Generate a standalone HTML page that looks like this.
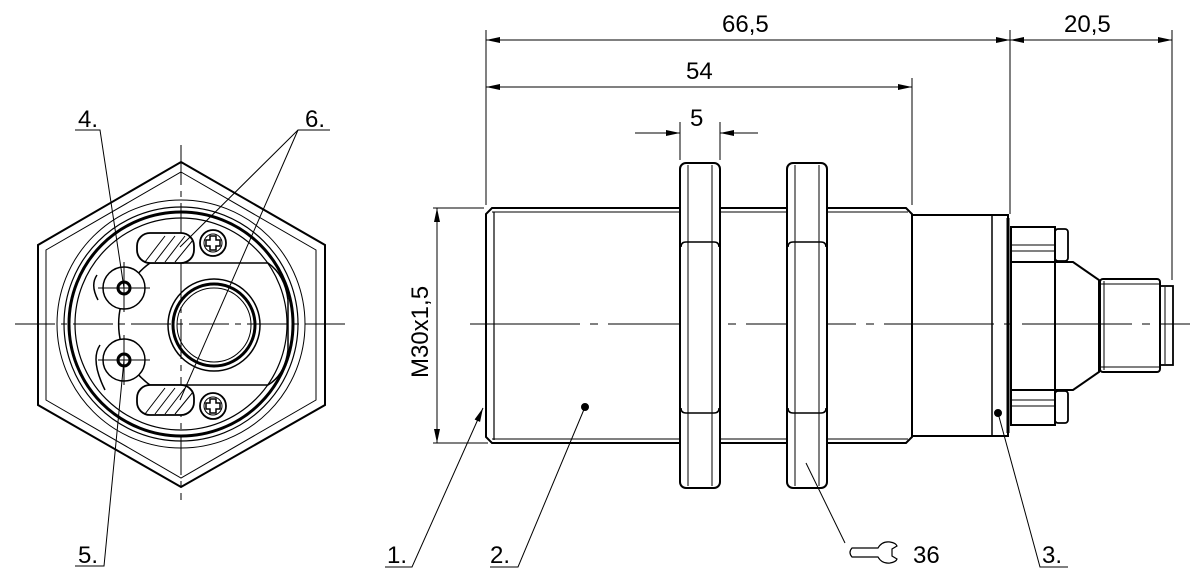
<!DOCTYPE html>
<html><head><style>body{margin:0;background:#fff}svg{display:block}text{font-family:"Liberation Sans",sans-serif;fill:#000}</style></head>
<body>
<svg width="1200" height="585" viewBox="0 0 1200 585" xmlns="http://www.w3.org/2000/svg">
<defs>
<marker id="a" markerWidth="14" markerHeight="8" refX="14" refY="4" orient="auto" markerUnits="userSpaceOnUse"><path d="M0,1 L14,4 L0,7 Z" fill="#000"/></marker>
</defs>
<g fill="none" stroke="#000">
<!-- LEFT VIEW -->
<g stroke-width="1">
<line x1="15" y1="324" x2="348" y2="324" stroke-dasharray="40,6,6,6"/>
<line x1="181" y1="145" x2="181" y2="500" stroke-dasharray="40,6,6,6"/>
</g>
<polygon points="181,162 325,245 325,405 181,487 38,405 38,245" stroke-width="2"/>
<polygon points="181,172 316,250 316,400 181,478 46,400 46,250" stroke-width="1"/>
<circle cx="181" cy="324" r="124" stroke-width="1"/>
<circle cx="181" cy="324" r="117" stroke-width="1.2"/>
<circle cx="181" cy="324" r="112" stroke-width="3"/>
<circle cx="181" cy="324" r="106" stroke-width="1.2"/>
<path d="M150,263 L268,263 Q285,275 288,300 L288,350 Q285,375 268,385 L150,385" stroke-width="1.5"/>
<path d="M150,263 A75,75 0 0 0 150,385" stroke-width="1.5"/>
<circle cx="214" cy="325" r="46" stroke-width="1.5"/>
<circle cx="214" cy="325" r="41" stroke-width="3"/>
<circle cx="214" cy="325" r="37" stroke-width="1"/>
<rect x="137" y="233" width="57" height="30" rx="13" stroke-width="1.8" fill="#fff"/>
<rect x="137" y="385" width="57" height="30" rx="13" stroke-width="1.8" fill="#fff"/>
<g stroke-width="1"><path d="M145,262 L165,236 M155,262 L175,236 M165,262 L185,236 M175,262 L193,240"/><path d="M145,414 L165,388 M155,414 L175,388 M165,414 L185,388 M175,414 L193,392"/></g>
<circle cx="213" cy="243" r="13" stroke-width="1.8" fill="#fff"/><circle cx="213" cy="243" r="9" stroke-width="1"/>
<circle cx="213" cy="406" r="13" stroke-width="1.8" fill="#fff"/><circle cx="213" cy="406" r="9" stroke-width="1"/>
<path d="M210,236h6v4h4v6h-4v4h-6v-4h-4v-6h4z M210,399h6v4h4v6h-4v4h-6v-4h-4v-6h4z" stroke-width="1.5"/>
<circle cx="124" cy="288" r="21" stroke-width="1.5" fill="#fff"/><circle cx="124" cy="360" r="21" stroke-width="1.5" fill="#fff"/>
<circle cx="124" cy="288" r="6" stroke-width="3"/><circle cx="124" cy="360" r="6" stroke-width="3"/>
<g stroke-width="1"><line x1="98" y1="288" x2="150" y2="288"/><line x1="124" y1="262" x2="124" y2="312"/><line x1="98" y1="360" x2="150" y2="360"/><line x1="124" y1="335" x2="124" y2="385"/></g>
<path d="M97,275 Q90,285 98,300 M100,345 Q90,360 105,390" stroke-width="1.5"/>
<g stroke-width="1">
<polyline points="75,130 100,130 124,288"/>
<polyline points="330,130 298,130 180,247"/><line x1="298" y1="130" x2="180" y2="400"/>
<polyline points="75,566 104,566 124,360"/>
</g>
<!-- RIGHT VIEW -->
<line x1="470" y1="324" x2="1190" y2="324" stroke-width="1" stroke-dasharray="110,10,8,10"/>
<path d="M492,208 L906,208 L912,214 L912,437 L906,443 L492,443 L486,437 L486,214 Z" stroke-width="2"/>
<line x1="494" y1="212" x2="494" y2="440" stroke-width="1.2"/>
<line x1="492" y1="212" x2="908" y2="212" stroke-width="1"/><line x1="492" y1="439" x2="908" y2="439" stroke-width="1"/>
<rect x="680" y="163" width="40" height="325" rx="6" stroke-width="2" fill="#fff"/>
<rect x="787" y="163" width="40" height="325" rx="6" stroke-width="2" fill="#fff"/>
<g stroke-width="1"><line x1="688" y1="165" x2="688" y2="486"/><line x1="712" y1="165" x2="712" y2="486"/><line x1="795" y1="165" x2="795" y2="486"/><line x1="819" y1="165" x2="819" y2="486"/></g>
<g stroke-width="1.5"><path d="M681,247 Q681,242 686,242 L714,242 Q719,242 719,247 M681,408 Q681,413 686,413 L714,413 Q719,413 719,408 M788,247 Q788,242 793,242 L821,242 Q826,242 826,247 M788,408 Q788,413 793,413 L821,413 Q826,413 826,408"/></g>
<rect x="912" y="215" width="96" height="221" stroke-width="2"/>
<line x1="992" y1="215" x2="992" y2="436" stroke-width="1.5"/>
<line x1="1008" y1="218" x2="1008" y2="433" stroke-width="3"/>
<rect x="1011" y="227" width="44" height="35" stroke-width="2"/><rect x="1011" y="390" width="44" height="35" stroke-width="2"/>
<g stroke-width="1"><line x1="1011" y1="245" x2="1055" y2="245"/><line x1="1011" y1="251" x2="1055" y2="251"/><line x1="1011" y1="400" x2="1055" y2="400"/><line x1="1011" y1="406" x2="1055" y2="406"/></g>
<rect x="1055" y="229" width="13" height="32" rx="3" stroke-width="1.8"/><rect x="1055" y="391" width="13" height="32" rx="3" stroke-width="1.8"/>
<path d="M1011,262 L1011,390 M1055,262 L1055,390 M1055,262 L1073,262 L1099,280 L1099,372 L1073,390 L1055,390" stroke-width="2"/>
<rect x="1100" y="279" width="60" height="93" rx="3" stroke-width="2"/>
<g stroke-width="1"><line x1="1104" y1="281" x2="1104" y2="370"/><line x1="1101" y1="284" x2="1159" y2="284"/><line x1="1101" y1="367" x2="1159" y2="367"/></g>
<rect x="1160" y="286" width="13" height="79" stroke-width="1.8"/><line x1="1165" y1="287" x2="1165" y2="364" stroke-width="1"/>
<g stroke-width="1">
<line x1="486" y1="205" x2="486" y2="30"/><line x1="1010" y1="214" x2="1010" y2="30"/><line x1="1172" y1="280" x2="1172" y2="30"/>
<line x1="912" y1="205" x2="912" y2="78"/>
<line x1="680" y1="160" x2="680" y2="122"/><line x1="720" y1="160" x2="720" y2="122"/>
<line x1="486" y1="40" x2="1010" y2="40" marker-end="url(#a)"/><line x1="1010" y1="40" x2="486" y2="40" marker-end="url(#a)"/>
<line x1="1010" y1="40" x2="1172" y2="40" marker-end="url(#a)"/><line x1="1172" y1="40" x2="1010" y2="40" marker-end="url(#a)"/>
<line x1="486" y1="87" x2="912" y2="87" marker-end="url(#a)"/><line x1="912" y1="87" x2="486" y2="87" marker-end="url(#a)"/>
<line x1="635" y1="133" x2="680" y2="133" marker-end="url(#a)"/><line x1="758" y1="133" x2="720" y2="133" marker-end="url(#a)"/>
<line x1="433" y1="208" x2="484" y2="208"/><line x1="433" y1="443" x2="488" y2="443"/>
<line x1="437" y1="325" x2="437" y2="208" marker-end="url(#a)"/><line x1="437" y1="325" x2="437" y2="443" marker-end="url(#a)"/>
<polyline points="385,567 412,567 483,408" marker-end="url(#a)"/>
<polyline points="490,567 518,567 585,407"/>
<line x1="806" y1="463" x2="845" y2="543"/>
<polyline points="1068,567 1040,567 998,413"/>
</g>
<circle cx="585" cy="407" r="3.5" fill="#000"/><circle cx="998" cy="413" r="3.5" fill="#000"/>
<path d="M852,548 L878,548 Q882,541 890,542 Q896,543 897,546 L892,549 L892,556 L897,559 Q896,562 890,563 Q882,564 878,557 L852,557 Q848,552.5 852,548 Z" stroke-width="1.2"/>
</g>
<g font-size="24">
<text x="722" y="32">66,5</text>
<text x="1064" y="32">20,5</text>
<text x="686" y="79">54</text>
<text x="690" y="126">5</text>
<text x="913" y="563">36</text>
<text x="78" y="127">4.</text>
<text x="305" y="127">6.</text>
<text x="78" y="563">5.</text>
<text x="387" y="563">1.</text>
<text x="490" y="563">2.</text>
<text x="1042" y="563">3.</text>
<text transform="translate(428,378) rotate(-90)">M30x1,5</text>
</g>
</svg>
</body></html>
